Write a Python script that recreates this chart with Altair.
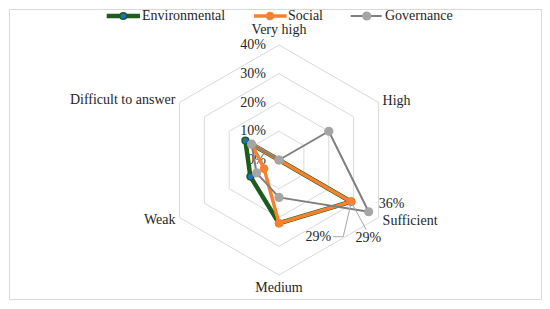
import altair as alt
import pandas as pd
import numpy as np

# ---------------- data ----------------
categories = ["Very high", "High", "Sufficient", "Medium", "Weak", "Difficult to answer"]
series_names = ["Environmental", "Social", "Governance"]
environmental = [0, 0, 29, 22, 11.5, 13.5]
social = [0, 0, 29, 22, 6, 11]
governance = [0, 20, 36, 13, 9, 11]
ring_values = [10, 20, 30, 40]
tick_values = [0, 10, 20, 30, 40]
tick_labels = ["0%", "10%", "20%", "30%", "40%"]
label_series = ["Governance", "Social", "Environmental"]
label_category = ["Sufficient", "Sufficient", "Sufficient"]
label_text = ["36%", "29%", "29%"]

# ---------------- styles / layout ----------------
K = 2.875            # pixels per percent
PAD = 1
W, H = 532, 290
CX, CY = 270, 151    # centre of the radar in plot pixels
XDOM = [-CX / K, (W - CX) / K]
YDOM = [-(H - CY) / K, CY / K]
FONT = "Liberation Serif"
FS = 14
TXT = "#262626"
GRID = "#D9D9D9"

styles = {
    "Environmental": dict(line="#1E5C1E", width=4.5, fill="#1F6FC4", stroke="#1E5C1E", sw=1.5, size=45),
    "Social": dict(line="#F9802E", width=3.5, fill="#F9802E", stroke="#F9802E", sw=0, size=75),
    "Governance": dict(line="#7F7F7F", width=2, fill="#A5A5A5", stroke="#A5A5A5", sw=0, size=85),
}
# category label offsets (px) and alignment
cat_style = {
    "Very high": (0, -15, "center"),
    "High": (4, -2, "left"),
    "Sufficient": (4, 3, "left"),
    "Medium": (0, 13, "center"),
    "Weak": (-4, 2, "right"),
    "Difficult to answer": (-4, -3, "right"),
}
# data label offsets (px): text dx, dy, align, leader path offsets
dl_style = [
    (10, -8, "left", []),
    (-20, 35, "right", [(0, 1), (-8, 35), (-18, 35)]),
    (17, 36, "center", [(1, 2), (15, 28)]),
]
# legend positions in plot px
legend_pos = {
    "Environmental": (97.7, 131.0, 114.3, 133.0),
    "Social": (245.0, 277.7, 261.0, 279.0),
    "Governance": (341.7, 372.7, 357.7, 376.0),
}
LEG_Y = 7

angles = np.deg2rad(np.arange(6) * 60.0)


def polar(v, i):
    return float(v * np.sin(angles[i])), float(v * np.cos(angles[i]))


def px2data(px, py):
    return XDOM[0] + px / K, YDOM[1] - py / K


X = lambda f="x": alt.X(f"{f}:Q", scale=alt.Scale(domain=XDOM, nice=False, zero=False), axis=None)
Y = lambda f="y": alt.Y(f"{f}:Q", scale=alt.Scale(domain=YDOM, nice=False, zero=False), axis=None)

# ---------------- tables ----------------
grid_rows = []
for r in ring_values:
    for i in range(7):
        x, y = polar(r, i % 6)
        grid_rows.append(dict(ring=r, order=i, x=x, y=y))
grid_df = pd.DataFrame(grid_rows)

series_rows = []
for name, vals in zip(series_names, [environmental, social, governance]):
    for i in range(7):
        j = i % 6
        x, y = polar(vals[j], j)
        series_rows.append(dict(series=name, order=i, category=categories[j], value=vals[j], x=x, y=y))
sdf = pd.DataFrame(series_rows)

tick_df = pd.DataFrame({"x": [0.0] * len(tick_values), "y": [float(v) for v in tick_values], "label": tick_labels})

cat_rows = []
for i, c in enumerate(categories):
    vx, vy = polar(ring_values[-1], i)
    dx, dy, al = cat_style[c]
    cat_rows.append(dict(label=c, x=vx + dx / K, y=vy - dy / K, al=al))
cat_df = pd.DataFrame(cat_rows)

dl_rows, lead_rows = [], []
for k, (s, c, t) in enumerate(zip(label_series, label_category, label_text)):
    vals = dict(zip(series_names, [environmental, social, governance]))[s]
    j = categories.index(c)
    px, py = polar(vals[j], j)
    dx, dy, al, path = dl_style[k]
    dl_rows.append(dict(label=t, x=px + dx / K, y=py - dy / K, al=al))
    for n, (ox, oy) in enumerate(path):
        lead_rows.append(dict(id=k, order=n, x=px + ox / K, y=py - oy / K))
dl_df = pd.DataFrame(dl_rows)
lead_df = pd.DataFrame(lead_rows)

leg_rows_line, leg_rows_pt, leg_rows_txt = [], [], []
for name in series_names:
    x0, x1, xm, xt = legend_pos[name]
    a, b = px2data(x0, LEG_Y)
    c2, _ = px2data(x1, LEG_Y)
    leg_rows_line += [dict(series=name, order=0, x=a, y=b), dict(series=name, order=1, x=c2, y=b)]
    m, _ = px2data(xm, LEG_Y)
    leg_rows_pt.append(dict(series=name, x=m, y=b))
    t, _ = px2data(xt, LEG_Y)
    leg_rows_txt.append(dict(series=name, x=t, y=b))
leg_line_df = pd.DataFrame(leg_rows_line)
leg_pt_df = pd.DataFrame(leg_rows_pt)
leg_txt_df = pd.DataFrame(leg_rows_txt)

# ---------------- layers ----------------
layers = []
layers.append(
    alt.Chart(grid_df).mark_line(color=GRID, strokeWidth=1).encode(
        x=X(), y=Y(), detail="ring:N", order="order:Q"
    )
)
layers.append(
    alt.Chart(tick_df).mark_text(font=FONT, fontSize=FS, color=TXT, align="right", baseline="middle", dx=-13).encode(
        x=X(), y=Y(), text="label:N"
    )
)
for al in ["left", "center", "right"]:
    sub = cat_df[cat_df["al"] == al]
    layers.append(
        alt.Chart(sub).mark_text(font=FONT, fontSize=FS, color=TXT, align=al, baseline="middle").encode(
            x=X(), y=Y(), text="label:N"
        )
    )

for name in series_names:
    st = styles[name]
    sub = sdf[sdf["series"] == name]
    layers.append(
        alt.Chart(sub).mark_line(color=st["line"], strokeWidth=st["width"], strokeJoin="round", strokeCap="round").encode(
            x=X(), y=Y(), order="order:Q"
        )
    )
    layers.append(
        alt.Chart(sub[sub["order"] < 6]).mark_point(
            shape="circle", filled=True, fill=st["fill"], stroke=st["stroke"], strokeWidth=st["sw"],
            size=st["size"], opacity=1
        ).encode(x=X(), y=Y())
    )

if len(lead_df):
    layers.append(
        alt.Chart(lead_df).mark_line(color="#A6A6A6", strokeWidth=1).encode(
            x=X(), y=Y(), detail="id:N", order="order:Q"
        )
    )
for al in ["left", "center", "right"]:
    sub = dl_df[dl_df["al"] == al]
    if len(sub):
        layers.append(
            alt.Chart(sub).mark_text(font=FONT, fontSize=FS, color=TXT, align=al, baseline="middle").encode(
                x=X(), y=Y(), text="label:N"
            )
        )

# legend
for name in series_names:
    st = styles[name]
    layers.append(
        alt.Chart(leg_line_df[leg_line_df["series"] == name]).mark_line(
            color=st["line"], strokeWidth=st["width"]
        ).encode(x=X(), y=Y(), order="order:Q")
    )
    layers.append(
        alt.Chart(leg_pt_df[leg_pt_df["series"] == name]).mark_point(
            shape="circle", filled=True, fill=st["fill"], stroke=st["stroke"], strokeWidth=st["sw"],
            size=st["size"], opacity=1
        ).encode(x=X(), y=Y())
    )
layers.append(
    alt.Chart(leg_txt_df).mark_text(font=FONT, fontSize=FS, color=TXT, align="left", baseline="middle").encode(
        x=X(), y=Y(), text="series:N"
    )
)

chart = (
    alt.layer(*layers)
    .properties(width=W, height=H, padding=PAD, autosize="none")
    .configure_view(stroke=GRID, strokeWidth=1)
)

chart.save("out.html", embed_options={"renderer": "svg", "actions": False})
